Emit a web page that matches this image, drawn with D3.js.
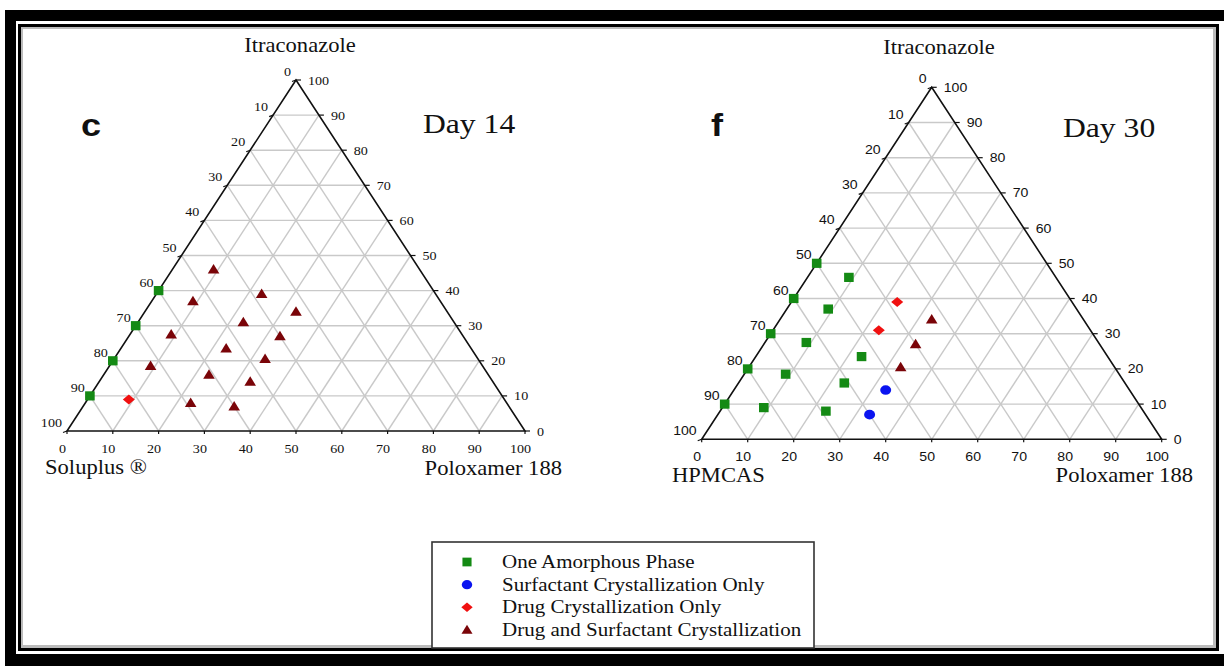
<!DOCTYPE html>
<html>
<head>
<meta charset="utf-8">
<script src="https://cdn.jsdelivr.net/npm/d3@7"></script>
<style>
    body { margin: 0; background: #fff; }
</style>
</head>
<body>
<div id="chart"></div>
<script>
// each point is [itraconazole %, poloxamer 188 %]; the polymer is the rest
var tickValues = [0, 10, 20, 30, 40, 50, 60, 70, 80, 90, 100];
var legendLabels = [
    'One Amorphous Phase',
    'Surfactant Crystallization Only',
    'Drug Crystallization Only',
    'Drug and Surfactant Crystallization'
];

var day14Amorphous = [[40, 0], [30, 0], [20, 0], [10, 0]];
var day14Surfactant = [];
var day14Drug = [[9, 9]];
var day14Both = [[46, 9], [37, 9], [27.5, 9], [18.5, 9],
    [39, 23], [31, 23], [23.5, 23], [16, 23], [8, 23],
    [34, 33], [27, 33], [20.5, 33], [14, 33], [7, 33]];

var day30Amorphous = [[50, 0], [40, 0], [30, 0], [20, 0], [10, 0],
    [46, 9], [37, 9], [27.5, 9], [18.5, 9], [9, 9],
    [23.5, 23], [16, 23], [8, 23]];
var day30Surfactant = [[14, 33], [7, 33]];
var day30Drug = [[39, 23], [31, 23]];
var day30Both = [[34, 33], [27, 33], [20.5, 33]];

(function () {
    'use strict';

    var WIDTH = 1224;
    var HEIGHT = 666;
    var SX = 1.13; // the picture is a little wider than tall
    var SERIF = '"Liberation Serif", "Times New Roman", serif';
    var SANS = '"Liberation Sans", Arial, sans-serif';
    var GRID = '#c9c9c9';

    var kinds = [
        {name: 'amorphous', color: '#148a14', path: 'M-4.8,-4.6L4.8,-4.6L4.8,4.6L-4.8,4.6Z'},
        {name: 'surfactant', color: '#0a14f0', path: 'M-5.5,0A5.5,4.8 0 1,0 5.5,0A5.5,4.8 0 1,0 -5.5,0Z'},
        {name: 'drug', color: '#f01010', path: 'M-6,0L0,-5L6,0L0,5Z'},
        {name: 'both', color: '#7a0408', path: 'M0,-5.5L5.8,4L-5.8,4Z'}
    ];

    var svg = d3.select('#chart')
        .append('svg')
        .attr('width', WIDTH)
        .attr('height', HEIGHT);

    svg.append('rect').attr('width', WIDTH).attr('height', HEIGHT).attr('fill', '#fff');

    drawFrame(svg);

    buildTernary(svg, {
        x0: 67, base: 431, width: 458, height: 351,
        tickFont: SERIF, tickSize: 12.5,
        top: 'Itraconazole', topX: 300, topY: 52,
        left: 'Soluplus \u00AE', leftX: 45, leftY: 474,
        right: 'Poloxamer 188', rightX: 562, rightY: 475,
        letter: 'c', letterX: 81, letterY: 136,
        day: 'Day 14', dayX: 423, dayY: 133,
        series: [day14Amorphous, day14Surfactant, day14Drug, day14Both]
    });

    buildTernary(svg, {
        x0: 701.7, base: 439.3, width: 460, height: 352,
        tickFont: SANS, tickSize: 12.5,
        top: 'Itraconazole', topX: 939, topY: 54,
        left: 'HPMCAS', leftX: 672, leftY: 482,
        right: 'Poloxamer 188', rightX: 1193, rightY: 482,
        letter: 'f', letterX: 711, letterY: 136,
        day: 'Day 30', dayX: 1063, dayY: 137,
        series: [day30Amorphous, day30Surfactant, day30Drug, day30Both]
    });

    drawLegend(svg);

    function addText(sel, str, x, y, font, size, anchor) {
        return sel.append('text')
            .attr('transform', 'translate(' + x + ',' + y + ') scale(' + SX + ',1)')
            .attr('text-anchor', anchor || 'start')
            .style('font-family', font)
            .style('font-size', size + 'px')
            .attr('fill', '#111')
            .text(str);
    }

    function drawFrame(svg) {
        // thick outer band, cut off on the right side
        svg.append('rect').attr('x', 5).attr('y', 10).attr('width', WIDTH - 5).attr('height', 11).attr('fill', '#000');
        svg.append('rect').attr('x', 5).attr('y', 10).attr('width', 11).attr('height', HEIGHT - 10).attr('fill', '#000');
        svg.append('rect').attr('x', 5).attr('y', 654).attr('width', WIDTH - 5).attr('height', 12).attr('fill', '#000');
        // inner frame with a soft shadow
        svg.append('rect').attr('x', 21.5).attr('y', 27.5).attr('width', 1193).attr('height', 619)
            .attr('fill', 'none').attr('stroke', '#bbb').attr('stroke-width', 3);
        svg.append('rect').attr('x', 19.5).attr('y', 25.5).attr('width', 1198).attr('height', 624)
            .attr('fill', 'none').attr('stroke', '#000').attr('stroke-width', 3);
    }

    function buildTernary(svg, c) {
        var g = svg.append('g');
        var xs = d3.scaleLinear().domain([0, 100]).range([c.x0, c.x0 + c.width]);
        var ys = d3.scaleLinear().domain([0, 100]).range([c.base, c.base - c.height]);

        // drug on the vertical, poloxamer along the base
        function pos(drug, polox) {
            return [xs(polox + drug / 2), ys(drug)];
        }

        var inner = tickValues.slice(1, -1);
        var lines = [];
        inner.forEach(function (v) {
            lines.push([pos(v, 0), pos(v, 100 - v)]);
            lines.push([pos(0, v), pos(100 - v, v)]);
            lines.push([pos(0, 100 - v), pos(100 - v, 0)]);
        });

        g.selectAll('line.grid')
            .data(lines)
            .enter()
            .append('line')
            .attr('class', 'grid')
            .attr('x1', function (d) { return d[0][0]; })
            .attr('y1', function (d) { return d[0][1]; })
            .attr('x2', function (d) { return d[1][0]; })
            .attr('y2', function (d) { return d[1][1]; })
            .attr('stroke', GRID)
            .attr('stroke-width', 1.4);

        var corners = [pos(100, 0), pos(0, 0), pos(0, 100)];
        g.append('path')
            .attr('d', 'M' + corners.join('L') + 'Z')
            .attr('fill', 'none')
            .attr('stroke', '#111')
            .attr('stroke-width', 1.6);

        // left edge: polymer share, 0 at the top
        tickValues.forEach(function (v) {
            var p = pos(100 - v, 0);
            g.append('line').attr('x1', p[0]).attr('y1', p[1]).attr('x2', p[0] - 4).attr('y2', p[1] + 1.5)
                .attr('stroke', '#111').attr('stroke-width', 1.2);
            addText(g, v, p[0] - 5, p[1] - 4, c.tickFont, c.tickSize, 'end');
        });

        // right edge: drug share, 100 at the top
        tickValues.forEach(function (v) {
            var p = pos(v, 100 - v);
            g.append('line').attr('x1', p[0]).attr('y1', p[1]).attr('x2', p[0] + 5).attr('y2', p[1])
                .attr('stroke', '#111').attr('stroke-width', 1.2);
            addText(g, v, p[0] + 12, p[1] + 4.5, c.tickFont, c.tickSize, 'start');
        });

        // base: poloxamer share
        tickValues.forEach(function (v) {
            var p = pos(0, v);
            g.append('line').attr('x1', p[0]).attr('y1', p[1]).attr('x2', p[0]).attr('y2', p[1] + 3)
                .attr('stroke', '#111').attr('stroke-width', 1.2);
            addText(g, v, p[0] - 4.5, p[1] + 22, c.tickFont, c.tickSize, 'middle');
        });

        addText(g, c.top, c.topX, c.topY, SERIF, 20, 'middle');
        addText(g, c.left, c.leftX, c.leftY, SERIF, 20, 'start');
        addText(g, c.right, c.rightX, c.rightY, SERIF, 20, 'end');
        addText(g, c.letter, c.letterX, c.letterY, SANS, 32, 'start').style('font-weight', 'bold');
        addText(g, c.day, c.dayX, c.dayY, SERIF, 28, 'start');

        c.series.forEach(function (data, i) {
            var k = kinds[i];
            g.selectAll('path.' + k.name)
                .data(data)
                .enter()
                .append('path')
                .attr('class', k.name)
                .attr('d', k.path)
                .attr('transform', function (d) {
                    var p = pos(d[0], d[1]);
                    return 'translate(' + p[0] + ',' + p[1] + ')';
                })
                .attr('fill', k.color);
        });
    }

    function drawLegend(svg) {
        var g = svg.append('g');
        g.append('rect')
            .attr('x', 432).attr('y', 542).attr('width', 382).attr('height', 106)
            .attr('fill', '#fff').attr('stroke', '#333').attr('stroke-width', 1.6);

        var rows = d3.scaleLinear().domain([0, 3]).range([562, 630]);
        legendLabels.forEach(function (label, i) {
            var k = kinds[i];
            g.append('path')
                .attr('d', k.path)
                .attr('transform', 'translate(467,' + rows(i) + ') scale(0.95)')
                .attr('fill', k.color);
            addText(g, label, 502, rows(i) + 6, SERIF, 18.6, 'start');
        });
    }
})();
</script>
</body>
</html>
